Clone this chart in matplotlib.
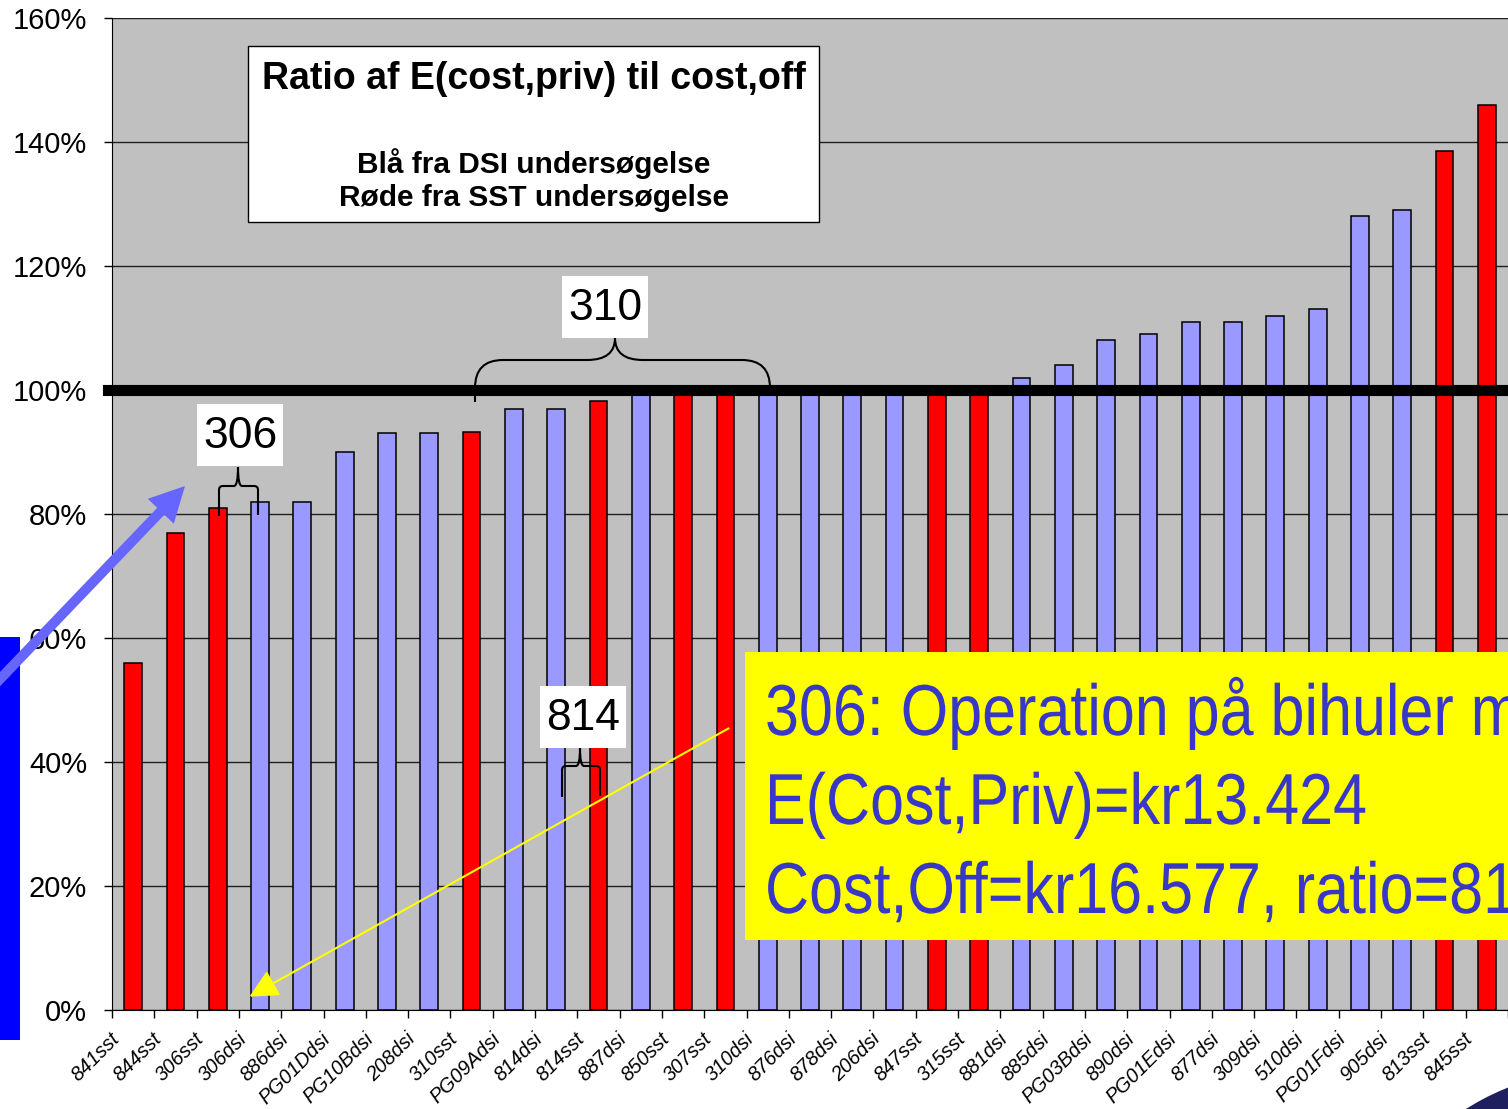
import numpy as np
import matplotlib
matplotlib.use('Agg')
import matplotlib.pyplot as plt
from matplotlib.patches import Rectangle, Polygon, Circle, PathPatch, FancyArrowPatch
from matplotlib.path import Path
from matplotlib.transforms import Affine2D, ScaledTranslation
from matplotlib.patheffects import AbstractPathEffect

categories = ['841sst', '844sst', '306sst', '306dsi', '886dsi', 'PG01Ddsi', 'PG10Bdsi',
              '208dsi', '310sst', 'PG09Adsi', '814dsi', '814sst', '887dsi', '850sst',
              '307sst', '310dsi', '876dsi', '878dsi', '206dsi', '847sst', '315sst',
              '881dsi', '885dsi', 'PG03Bdsi', '890dsi', 'PG01Edsi', '877dsi', '309dsi',
              '510dsi', 'PG01Fdsi', '905dsi', '813sst', '845sst']
ratios = [0.56, 0.77, 0.81, 0.82, 0.82, 0.90, 0.93, 0.93, 0.932, 0.97, 0.97, 0.982,
          1.00, 1.00, 1.00, 1.00, 1.00, 1.00, 1.00, 1.00, 1.00, 1.02, 1.04, 1.08,
          1.09, 1.11, 1.11, 1.12, 1.13, 1.28, 1.29, 1.385, 1.46]
y_ticks = [0, 0.2, 0.4, 0.6, 0.8, 1.0, 1.2, 1.4, 1.6]
y_labels = ['0%', '20%', '40%', '60%', '80%', '100%', '120%', '140%', '160%']

W, H = 1508, 1109
plt.rcParams['font.family'] = ['Liberation Sans', 'DejaVu Sans']


class Squeeze(AbstractPathEffect):
    # narrow font is not installed, so squeeze the glyphs sideways
    def __init__(self, x0, sx):
        super().__init__()
        self.x0, self.sx = x0, sx

    def draw_path(self, renderer, gc, tpath, affine, rgbFace=None):
        sq = Affine2D().translate(-self.x0, 0).scale(self.sx, 1).translate(self.x0, 0)
        renderer.draw_path(gc, tpath, affine + sq, rgbFace)


fig = plt.figure(figsize=(W / 100, H / 100), dpi=100)
ax = fig.add_axes([112 / W, 1 - 1010 / H, (W - 112) / W, (1010 - 18) / H])
ax.set_facecolor('#C0C0C0')

x = np.arange(len(categories))
colors = ['#FF0000' if c.endswith('sst') else '#9999FF' for c in categories]
ax.bar(x, ratios, width=0.42, color=colors, edgecolor='black', linewidth=1.1, zorder=2)
ax.axhline(1.0, xmin=-0.003, color='black', linewidth=8, zorder=3, clip_on=False)

ax.set_xlim(-0.5, -0.5 + (W - 112) / 42.625)
ax.set_ylim(0, 1.6)
ax.set_yticks(y_ticks)
ax.set_yticklabels(y_labels, fontsize=21)
ax.yaxis.grid(True, color='#202020', linewidth=1)
ax.set_axisbelow(True)
ax.tick_params(axis='y', length=6, width=1, pad=12)

# category labels as plain texts so they can sit a little left of the bar centre
ax.set_xticks(np.arange(len(categories) + 1) - 0.5)
ax.set_xticklabels([])
ax.tick_params(axis='x', length=6, width=1)
lbl_tr = ax.get_xaxis_transform() + ScaledTranslation(-0.10, -0.19, fig.dpi_scale_trans)
for i, c in zip(x, categories):
    ax.text(i, 0, c, transform=lbl_tr, rotation=45, ha='right', va='top',
            fontsize=14.5, fontstyle='italic', clip_on=False)
for s in ['top', 'right']:
    ax.spines[s].set_visible(False)

# pixel coordinates (top-left origin) for the overlay shapes
pxt = Affine2D().scale(1 / W, -1 / H).translate(0, 1) + fig.transFigure

# title box
fig.patches.append(Rectangle((248, 46), 571, 176, transform=pxt, facecolor='white',
                             edgecolor='black', linewidth=1, zorder=5))
fig.text(534, 79, 'Ratio af E(cost,priv) til cost,off', transform=pxt, ha='center',
         va='center', fontsize=27, fontweight='bold', zorder=6)
fig.text(534, 164, 'Blå fra DSI undersøgelse', transform=pxt, ha='center',
         va='center', fontsize=21.5, fontweight='bold', zorder=6)
fig.text(534, 198, 'Røde fra SST undersøgelse', transform=pxt, ha='center',
         va='center', fontsize=21.5, fontweight='bold', zorder=6)


def brace(x0, yb0, x1, yb1, yh, xm, yt, r):
    verts = [(x0, yb0), (x0, yh + r), (x0, yh), (x0 + r, yh), (xm - r, yh), (xm, yh), (xm, yt),
             (xm, yh), (xm + r, yh), (x1 - r, yh), (x1, yh), (x1, yh + r), (x1, yb1)]
    codes = [Path.MOVETO, Path.LINETO, Path.CURVE3, Path.CURVE3, Path.LINETO, Path.CURVE3,
             Path.CURVE3, Path.CURVE3, Path.CURVE3, Path.LINETO, Path.CURVE3, Path.CURVE3,
             Path.LINETO]
    fig.patches.append(PathPatch(Path(verts, codes), transform=pxt, facecolor='none',
                                 edgecolor='black', linewidth=1.5, zorder=5))


def label_box(x0, y0, txt):
    fig.patches.append(Rectangle((x0, y0), 86, 62, transform=pxt, facecolor='white',
                                 edgecolor='none', zorder=5))
    fig.text(x0 + 43, y0 + 33, txt, transform=pxt, ha='center', va='center',
             fontsize=32, zorder=6)


brace(475, 402, 770, 385, 360, 615, 338, 28)
label_box(562, 276, '310')
brace(219, 516, 258, 515, 486, 238, 467, 4)
label_box(197, 404, '306')
brace(562, 797, 600, 796, 766, 580, 748, 4)
label_box(540, 686, '814')

# blue side bar and big arrow
fig.patches.append(Rectangle((0, 637), 20, 403, transform=pxt, facecolor='#0000FF',
                             edgecolor='none', zorder=4))
tail = np.array([-20.0, 700.0])
tip = np.array([185.0, 486.0])
d = (tip - tail) / np.linalg.norm(tip - tail)
n = np.array([-d[1], d[0]])
base = tip - d * 35
pts = [tail + n * 5, base + n * 5, base + n * 18, tip, base - n * 18, base - n * 5, tail - n * 5]
fig.patches.append(Polygon(pts, closed=True, transform=pxt, facecolor='#6666FF',
                           edgecolor='none', zorder=7))

# yellow info box
fig.patches.append(Rectangle((745, 652), 800, 288, transform=pxt, facecolor='#FFFF00',
                             edgecolor='none', zorder=5))
info = ['306: Operation på bihuler med', 'E(Cost,Priv)=kr13.424', 'Cost,Off=kr16.577, ratio=81%']
for line, yb in zip(info, [735, 824, 913]):
    fig.text(765, yb, line, transform=pxt, ha='left', va='baseline', fontsize=52,
             color='#3838C8', zorder=6, path_effects=[Squeeze(765, 0.845)])

fig.patches.append(FancyArrowPatch((731, 727), (247, 998), transform=pxt,
                                   arrowstyle='-|>,head_length=0.7,head_width=0.35',
                                   mutation_scale=25, color='#FFFF00', linewidth=1.5,
                                   zorder=6))

fig.patches.append(Circle((1600, 1320), 250, transform=pxt, facecolor='#1F1F5F',
                          edgecolor='none', zorder=4))

fig.savefig('out.png', dpi=100)
